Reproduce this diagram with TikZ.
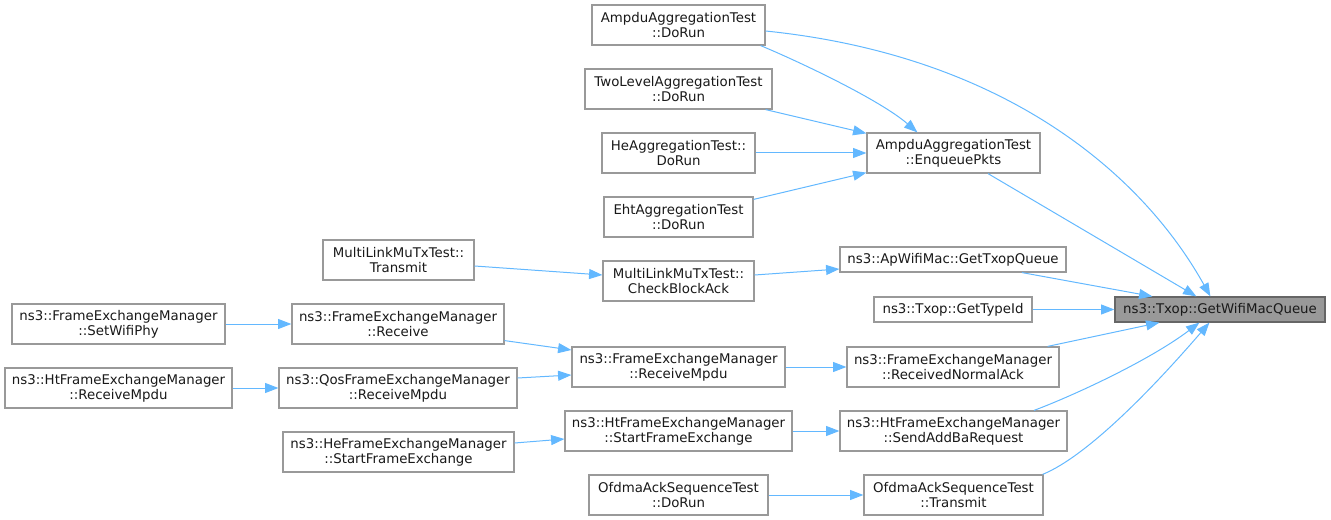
\documentclass[tikz,border=0pt]{standalone}
\usepackage{fontspec}
\setmainfont{DejaVu Sans}
\usetikzlibrary{arrows.meta,calc}
\definecolor{edgeblue}{HTML}{63B8FF}
\definecolor{boxgray}{HTML}{999999}
\definecolor{darkgray}{HTML}{666666}
\begin{document}
\begin{tikzpicture}[x=0.75pt,y=-0.75pt,
  box/.style={draw=boxgray,line width=0.9pt,fill=white,inner sep=0pt,align=center,
    font=\fontsize{10}{11.3}\selectfont,text=black!90},
  hl/.style={box,fill=boxgray,draw=darkgray},
  edge/.style={draw=edgeblue,line width=0.75pt,-{Triangle[length=10pt,width=7.5pt]}}]
\useasboundingbox (0,0) rectangle (1331,520);
% nodes
\node[box,minimum width=129.75pt,minimum height=30pt] (A) at (678.5,25) {AmpduAggregationTest\\::DoRun};
\node[box,minimum width=140.25pt,minimum height=30pt] (B) at (678.5,89) {TwoLevelAggregationTest\\::DoRun};
\node[box,minimum width=114.75pt,minimum height=30pt] (C) at (678.5,153) {HeAggregationTest::\\DoRun};
\node[box,minimum width=111.75pt,minimum height=30pt] (D) at (678.5,217) {EhtAggregationTest\\::DoRun};
\node[box,minimum width=129.75pt,minimum height=30pt] (E) at (953.5,153) {AmpduAggregationTest\\::EnqueuePkts};
\node[box,minimum width=113.25pt,minimum height=30pt] (F) at (398.5,260) {MultiLinkMuTxTest::\\Transmit};
\node[box,minimum width=113.25pt,minimum height=30pt] (G) at (678.5,281) {MultiLinkMuTxTest::\\CheckBlockAck};
\node[box,minimum width=169.5pt,minimum height=18.75pt] (H) at (953,259.5) {ns3::ApWifiMac::GetTxopQueue};
\node[box,minimum width=118.5pt,minimum height=18.75pt] (I) at (953,309.5) {ns3::Txop::GetTypeId};
\node[hl,minimum width=157.5pt,minimum height=18.75pt] (T) at (1220,309.5) {ns3::Txop::GetWifiMacQueue};
\node[box,minimum width=159.75pt,minimum height=30pt] (J) at (118.5,324) {ns3::FrameExchangeManager\\::SetWifiPhy};
\node[box,minimum width=159pt,minimum height=30pt] (K) at (398,324) {ns3::FrameExchangeManager\\::Receive};
\node[box,minimum width=170.25pt,minimum height=30pt] (L) at (118.5,388) {ns3::HtFrameExchangeManager\\::ReceiveMpdu};
\node[box,minimum width=178.5pt,minimum height=30pt] (M) at (398,388) {ns3::QosFrameExchangeManager\\::ReceiveMpdu};
\node[box,minimum width=173.25pt,minimum height=30pt] (N) at (398.5,452) {ns3::HeFrameExchangeManager\\::StartFrameExchange};
\node[box,minimum width=159.75pt,minimum height=30pt] (O) at (678.5,367) {ns3::FrameExchangeManager\\::ReceiveMpdu};
\node[box,minimum width=170.25pt,minimum height=30pt] (P) at (678.5,431) {ns3::HtFrameExchangeManager\\::StartFrameExchange};
\node[box,minimum width=134.25pt,minimum height=30pt] (Q) at (678.5,495) {OfdmaAckSequenceTest\\::DoRun};
\node[box,minimum width=159pt,minimum height=30pt] (R) at (953,367) {ns3::FrameExchangeManager\\::ReceivedNormalAck};
\node[box,minimum width=170.25pt,minimum height=30pt] (S) at (953.5,431) {ns3::HtFrameExchangeManager\\::SendAddBaRequest};
\node[box,minimum width=134.25pt,minimum height=30pt] (U) at (953.5,495) {OfdmaAckSequenceTest\\::Transmit};
% edges
\draw[edge] ($(A.east)+(0,6)$) .. controls (1000,55) and (1140,170) .. ($(T.north west)+(96,0)$);
\draw[edge] ($(A.south east)+(-5,0)$) .. controls (800,62) and (880,100) .. ($(E.north west)+(51,0)$);
\draw[edge] ($(B.south east)+(-7,0)$) -- ($(E.north west)+(0,1)$);
\draw[edge] (C.east) -- (E.west);
\draw[edge] ($(D.north east)+(0,3)$) -- ($(E.south west)+(0,-1)$);
\draw[edge] ($(E.south)+(34.5,0)$) -- ($(T.north west)+(82,0)$);
\draw[edge] ($(F.east)+(0,6)$) -- ($(G.west)+(0,-6)$);
\draw[edge] ($(G.east)+(0,-6)$) -- ($(H.west)+(0,9.5)$);
\draw[edge] ($(H.south)+(69,0)$) -- ($(T.north west)+(38,0)$);
\draw[edge] (I.east) -- (T.west);
\draw[edge] (J.east) -- (K.west);
\draw[edge] ($(K.south east)+(0,-4)$) -- ($(O.west)+(0,-17)$);
\draw[edge] (L.east) -- (M.west);
\draw[edge] ($(M.east)+(0,-10)$) -- ($(O.west)+(0,8)$);
\draw[edge] (O.east) -- (R.west);
\draw[edge] ($(R.north east)+(-12,0)$) -- ($(T.south west)+(45,0)$);
\draw[edge] ($(N.east)+(0,-9)$) -- ($(P.west)+(0,8)$);
\draw[edge] (P.east) -- (S.west);
\draw[edge] ($(S.north)+(80.5,0)$) .. controls (1075,395) and (1150,360) .. ($(T.south west)+(85,0)$);
\draw[edge] (Q.east) -- (U.west);
\draw[edge] ($(U.north east)+(-1,0)$) .. controls (1090,455) and (1160,380) .. ($(T.south west)+(95,0)$);
\end{tikzpicture}
\end{document}
